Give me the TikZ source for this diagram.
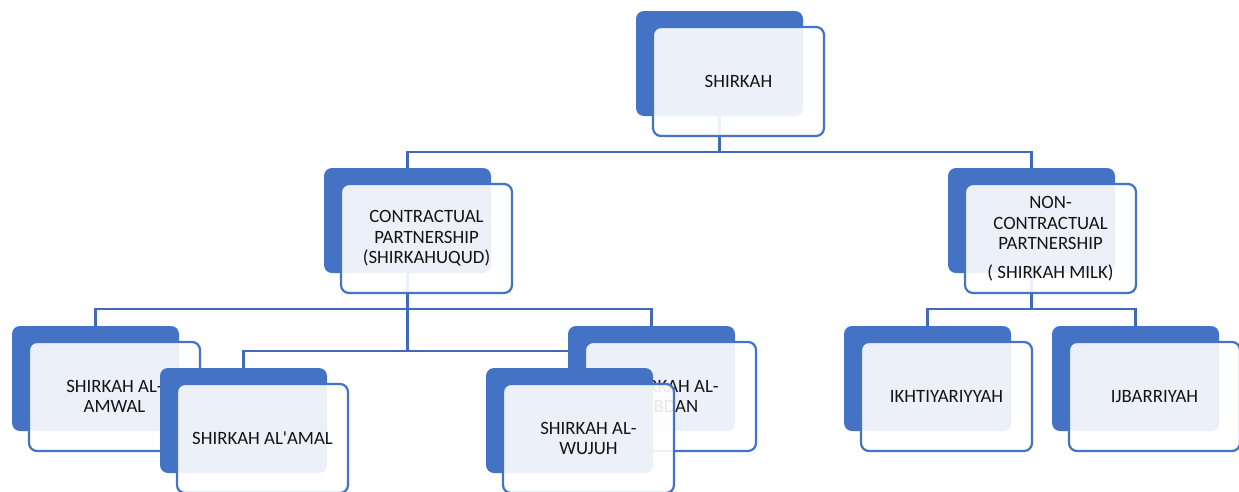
\documentclass[tikz,border=0pt]{standalone}
\usepackage{fontspec}
\setmainfont{Carlito}
\definecolor{acc}{HTML}{4472C4}
\definecolor{conncol}{HTML}{4169B8}
\definecolor{txt}{HTML}{141414}
\pgfdeclarelayer{bg}
\pgfsetlayers{bg,main}
\begin{document}
\begin{tikzpicture}[x=1pt,y=-1pt,
  backbox/.style={rectangle, rounded corners=8pt, fill=acc, draw=none,
    minimum width=167pt, minimum height=105pt, inner sep=0pt, outer sep=0pt, anchor=north west},
  frontbox/.style={rectangle, rounded corners=8pt, fill=white, fill opacity=0.9, text opacity=1,
    draw=acc, line width=2.2pt, minimum width=171pt, minimum height=109pt, inner sep=0pt,
    outer sep=0pt, anchor=north west, align=center, font=\fontsize{18.8}{20.5}\selectfont, text=txt},
  conn/.style={draw=conncol, line width=2.2pt}]
\useasboundingbox (0,0) rectangle (1239,491);
\coordinate (busR) at (0,152);
\coordinate (busA) at (0,309);
\coordinate (busB) at (0,351);
% root
\node[backbox] (b0) at (636,11) {};
\node[frontbox] (f0) at (653,27) {SHIRKAH};
% level 1
\node[backbox] (b1) at (324,168) {};
\node[frontbox] (f1) at (341,184) {CONTRACTUAL\\PARTNERSHIP\\(SHIRKAHUQUD)};
\node[backbox] (b2) at (948,168) {};
\node[frontbox] (f2) at (965,184) {NON-\\CONTRACTUAL\\PARTNERSHIP\\[8pt]( SHIRKAH MILK)};
% level 2
\node[backbox] (b3) at (12,326) {};
\node[frontbox] (f3) at (29,342) {SHIRKAH AL-\\AMWAL};
\node[backbox] (b4) at (568,326) {};
\node[frontbox] (f4) at (585,342) {SHIRKAH AL-\\ABDAN};
\node[backbox] (b5) at (160,368) {};
\node[frontbox] (f5) at (177,384) {SHIRKAH AL\textquotesingle AMAL};
\node[backbox] (b6) at (486,368) {};
\node[frontbox] (f6) at (503,384) {SHIRKAH AL-\\WUJUH};
\node[backbox] (b7) at (844,326) {};
\node[frontbox] (f7) at (861,342) {IKHTIYARIYYAH};
\node[backbox] (b8) at (1052,326) {};
\node[frontbox] (f8) at (1069,342) {IJBARRIYAH};
\begin{pgfonlayer}{bg}
\draw[conn] (b0.center) |- (b1.north |- busR) -- (b1.north);
\draw[conn] (b0.center) |- (b2.north |- busR) -- (b2.north);
\draw[conn] (b1.center) |- (b3.north |- busA) -- (b3.north);
\draw[conn] (b1.center) |- (b4.north |- busA) -- (b4.north);
\draw[conn] (b1.center) |- (b5.north |- busB) -- (b5.north);
\draw[conn] (b1.center) |- (b6.north |- busB) -- (b6.north);
\draw[conn] (b2.center) |- (b7.north |- busA) -- (b7.north);
\draw[conn] (b2.center) |- (b8.north |- busA) -- (b8.north);
\end{pgfonlayer}
\end{tikzpicture}
\end{document}
